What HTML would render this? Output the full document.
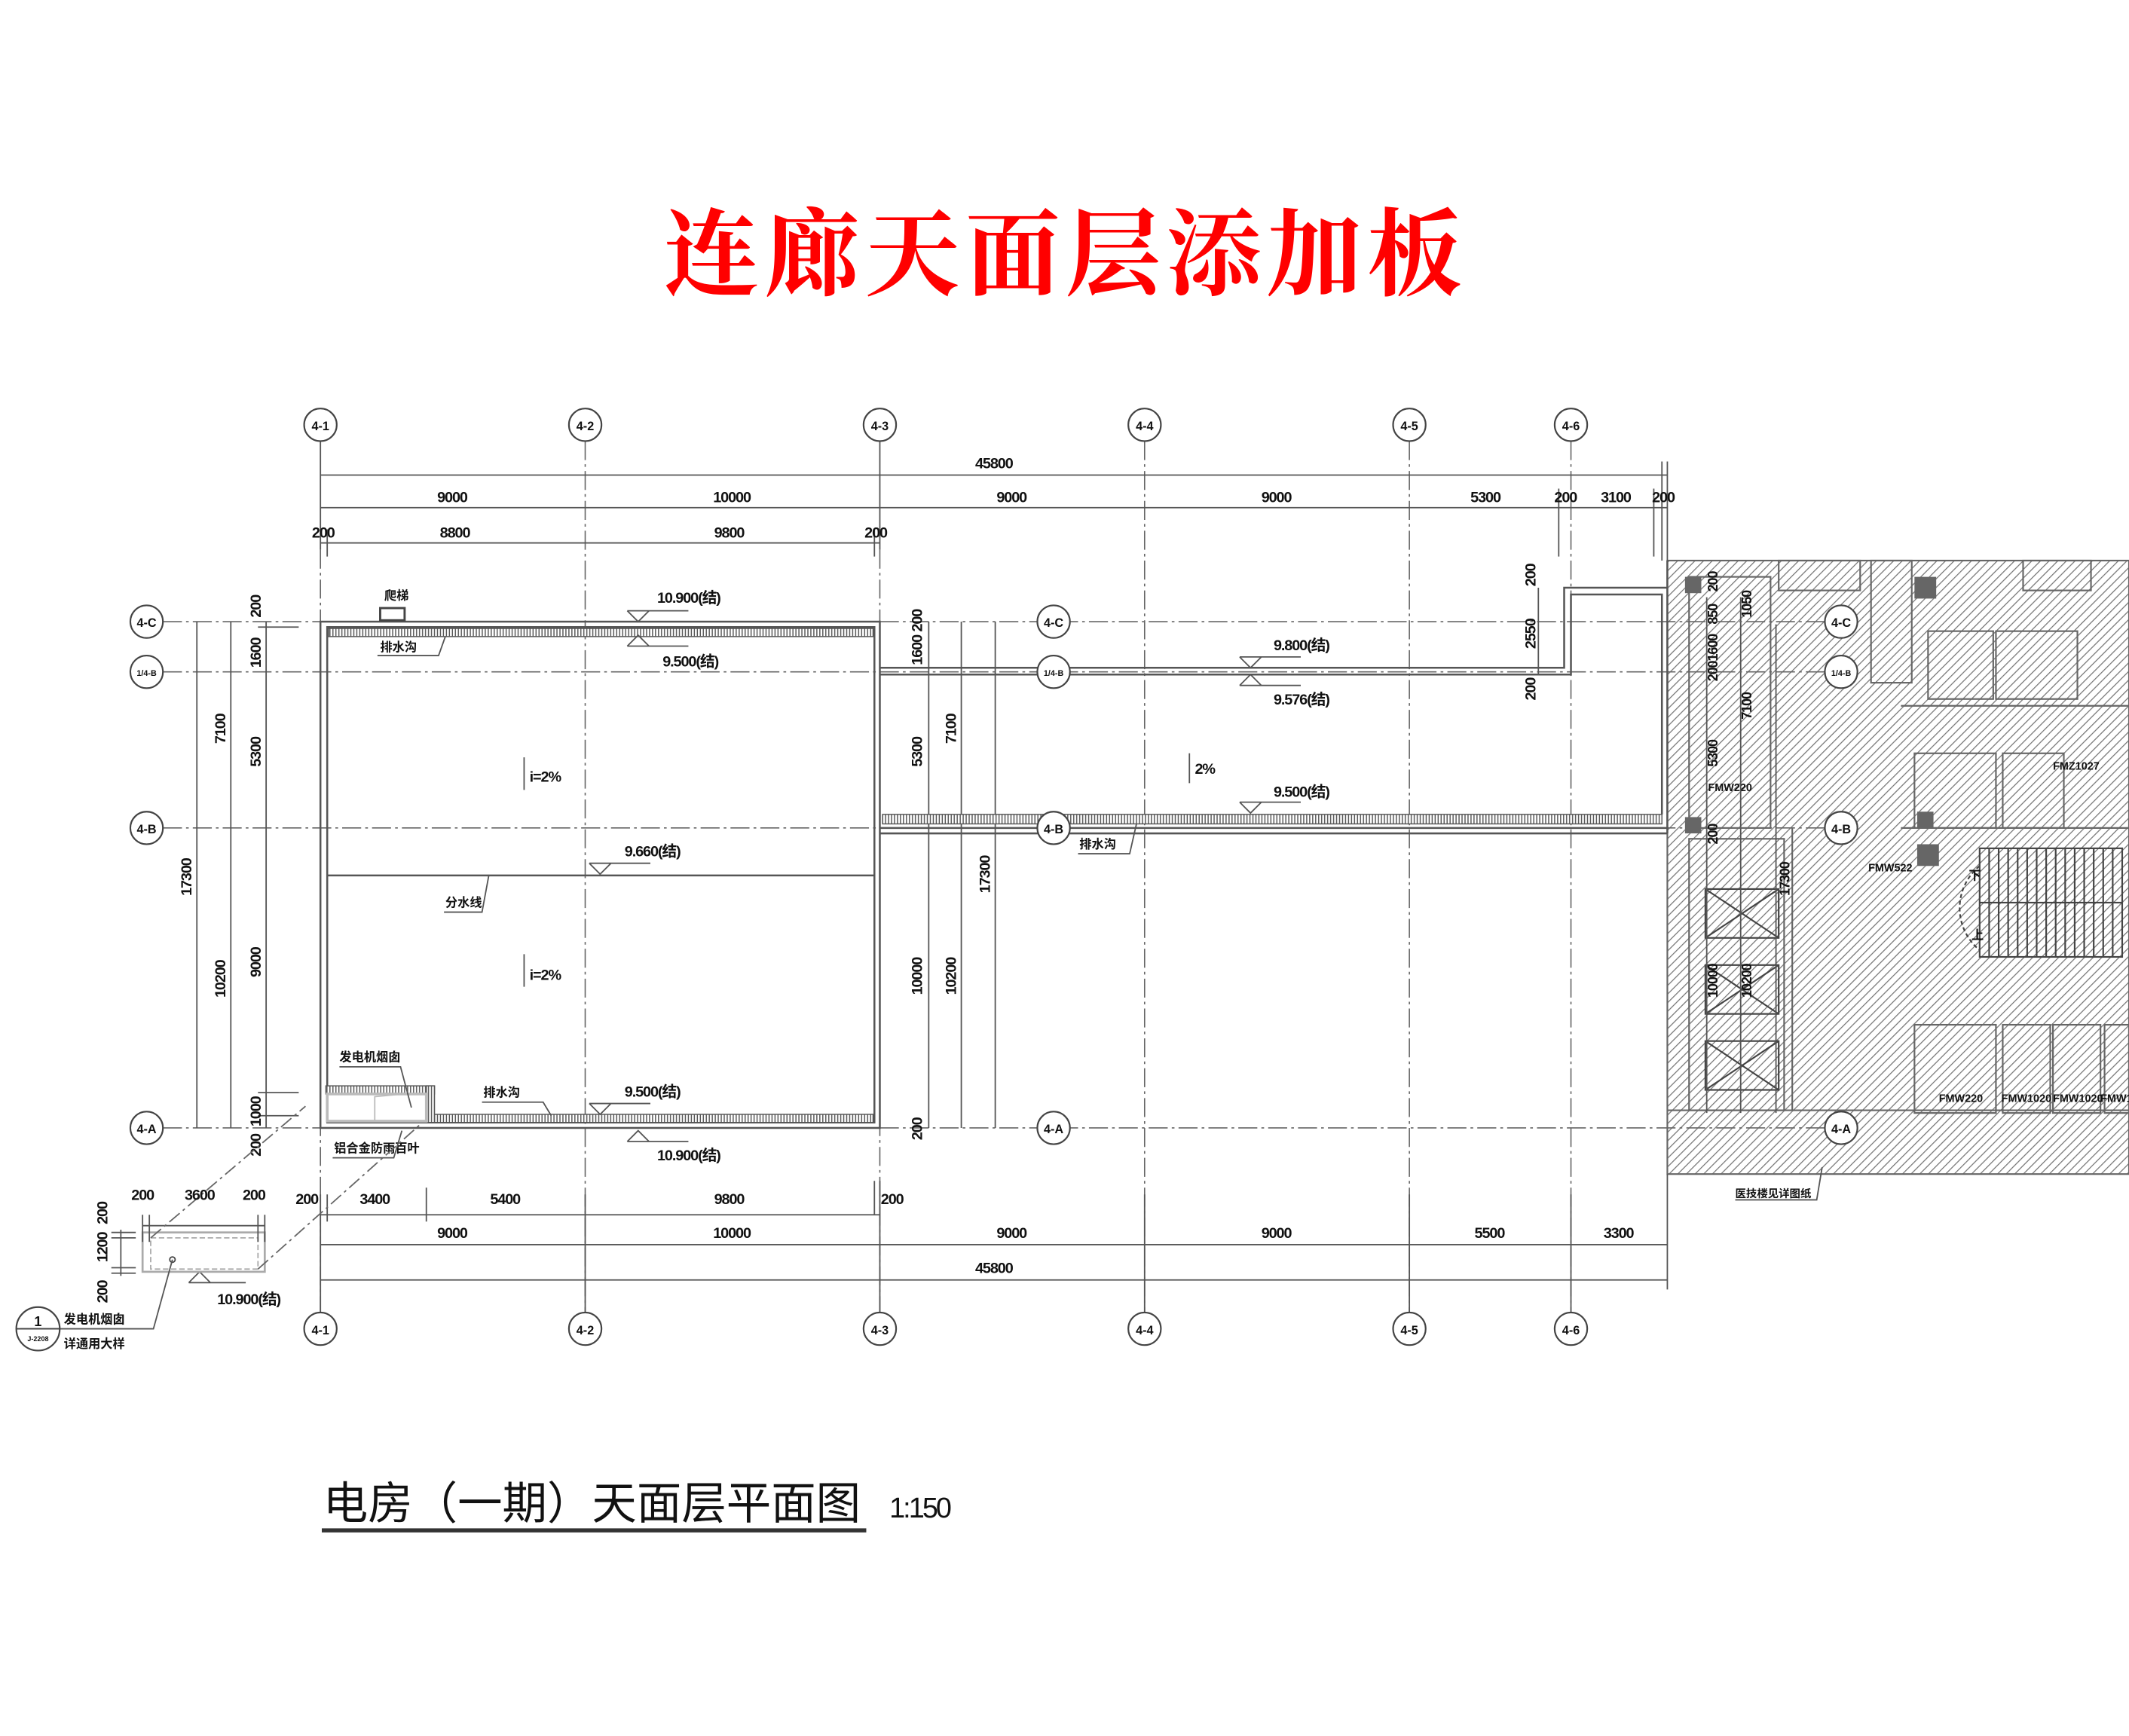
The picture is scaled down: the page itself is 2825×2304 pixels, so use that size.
<!DOCTYPE html>
<html><head><meta charset="utf-8"><style>
html,body{margin:0;padding:0;background:#fff;}
svg{display:block;}
text{font-family:"Liberation Sans","Noto Sans CJK SC",sans-serif;fill:#111;}
.n{font-size:11px;font-weight:bold;letter-spacing:-0.6px;}
.c{font-size:9px;font-weight:bold;}
.g{stroke:#555;stroke-width:1;fill:none;}
.dd{stroke:#666;stroke-width:0.9;stroke-dasharray:14 3 2 3;fill:none;}
.w{stroke:#555;stroke-width:1.4;fill:none;}
.ax{fill:#fff;stroke:#444;stroke-width:1.2;}
</style></head><body>
<svg width="2825" height="2304" viewBox="0 0 1568 1279" preserveAspectRatio="none" xmlns="http://www.w3.org/2000/svg">
<defs>
<pattern id="tick" width="2.2" height="10" patternUnits="userSpaceOnUse"><rect width="2.2" height="10" fill="#fff"/><line x1="1" y1="0" x2="1" y2="10" stroke="#555" stroke-width="0.8"/></pattern>
<pattern id="hat" width="4.5" height="4.5" patternUnits="userSpaceOnUse" patternTransform="rotate(45)"><rect width="4.5" height="4.5" fill="#fff"/><line x1="0" y1="0" x2="0" y2="4.5" stroke="#777" stroke-width="1.4"/></pattern>
</defs>
<rect width="1568" height="1279" fill="#fff"/>

<text x="785" y="212" text-anchor="middle" style="font-family:'Noto Serif CJK SC','Noto Sans CJK SC',serif;font-size:70px;font-weight:bold;fill:#f00;letter-spacing:4px">连廊天面层添加板</text>

<rect x="1228" y="413" width="340" height="452" fill="url(#hat)" stroke="#666" stroke-width="1.2"/>
<g stroke="#666" stroke-width="1.2" fill="none">
<rect x="1244" y="425" width="60" height="185"/>
<rect x="1244" y="618" width="70" height="200"/>
<rect x="1310" y="413" width="60" height="22"/>
<rect x="1378" y="413" width="30" height="90"/>
<rect x="1420" y="465" width="48" height="50"/>
<rect x="1470" y="465" width="60" height="50"/>
<rect x="1490" y="413" width="50" height="22"/>
<rect x="1410" y="555" width="60" height="55"/>
<rect x="1475" y="555" width="45" height="55"/>
<rect x="1410" y="755" width="60" height="65"/>
<rect x="1475" y="755" width="35" height="65"/>
<rect x="1512" y="755" width="35" height="65"/>
<rect x="1550" y="755" width="18" height="65"/>
<line x1="1228" y1="818" x2="1568" y2="818"/>
<line x1="1400" y1="610" x2="1568" y2="610"/>
<line x1="1400" y1="520" x2="1568" y2="520"/>
<line x1="1320" y1="610" x2="1320" y2="818"/>
</g>
<g stroke="#444" stroke-width="1.2" fill="none">
<rect x="1256" y="655" width="54" height="36"/><line x1="1256" y1="655" x2="1310" y2="691"/><line x1="1310" y1="655" x2="1256" y2="691"/>
<rect x="1256" y="711" width="54" height="36"/><line x1="1256" y1="711" x2="1310" y2="747"/><line x1="1310" y1="711" x2="1256" y2="747"/>
<rect x="1256" y="767" width="54" height="36"/><line x1="1256" y1="767" x2="1310" y2="803"/><line x1="1310" y1="767" x2="1256" y2="803"/>
<rect x="1458" y="625" width="105" height="80"/>
<line x1="1458" y1="665" x2="1563" y2="665"/>
<path d="M1465 625v80M1472 625v80M1479 625v80M1486 625v80M1493 625v80M1500 625v80M1507 625v80M1514 625v80M1521 625v80M1528 625v80M1535 625v80M1542 625v80M1549 625v80M1556 625v80"/>
<path d="M1458 638 A40 40 0 0 0 1458 700" stroke-dasharray="3 2"/>
</g>
<g fill="#666"><rect x="1410" y="425" width="16" height="16"/><rect x="1241" y="425" width="12" height="12"/><rect x="1241" y="602" width="12" height="12"/><rect x="1412" y="598" width="12" height="12"/><rect x="1412" y="622" width="16" height="16"/></g>
<text x="1450" y="648" class="c">下</text><text x="1452" y="692" class="c">上</text>
<g style="font-size:8px;fill:#666;font-weight:bold">
<text x="1258" y="583">FMW220</text><text x="1376" y="642">FMW522</text><text x="1512" y="567">FMZ1027</text>
<text x="1428" y="812">FMW220</text><text x="1474" y="812">FMW1020</text><text x="1512" y="812">FMW1020</text><text x="1547" y="812">FMW1020</text>
</g>
<g class="n" style="font-size:10px"><text transform="translate(1265,436) rotate(-90)">200</text><text transform="translate(1265,460) rotate(-90)">850</text><text transform="translate(1290,455) rotate(-90)">1050</text><text transform="translate(1265,502) rotate(-90)">2001600</text><text transform="translate(1290,530) rotate(-90)">7100</text><text transform="translate(1265,565) rotate(-90)">5300</text><text transform="translate(1265,622) rotate(-90)">200</text><text transform="translate(1318,660) rotate(-90)">17300</text><text transform="translate(1265,735) rotate(-90)">10000</text><text transform="translate(1290,735) rotate(-90)">10200</text></g>
<g class="g"><line x1="1257" y1="440" x2="1257" y2="820"/><line x1="1282" y1="440" x2="1282" y2="820"/><line x1="1308" y1="460" x2="1308" y2="820"/></g>
<path d="M1278 884h60l4-24" class="g"/><text x="1278" y="882" class="c" style="font-size:8px">医技楼见详图纸</text>

<g class="dd">
<line x1="236" y1="405" x2="236" y2="967"/><line x1="431" y1="325" x2="431" y2="967"/><line x1="648" y1="405" x2="648" y2="967"/>
<line x1="843" y1="325" x2="843" y2="967"/><line x1="1038" y1="325" x2="1038" y2="967"/><line x1="1157" y1="325" x2="1157" y2="967"/>
</g>
<g class="g">
<line x1="236" y1="325" x2="236" y2="405"/><line x1="648" y1="325" x2="648" y2="405"/>
<line x1="236" y1="880" x2="236" y2="967"/><line x1="431" y1="880" x2="431" y2="967"/><line x1="648" y1="870" x2="648" y2="967"/><line x1="843" y1="880" x2="843" y2="967"/><line x1="1038" y1="880" x2="1038" y2="967"/><line x1="1157" y1="880" x2="1157" y2="967"/>
<line x1="1228" y1="340" x2="1228" y2="413"/><line x1="1224" y1="340" x2="1224" y2="413"/><line x1="1228" y1="865" x2="1228" y2="950"/>
</g>
<g class="dd">
<line x1="120" y1="458" x2="1344" y2="458"/><line x1="120" y1="495" x2="1344" y2="495"/><line x1="120" y1="610" x2="1344" y2="610"/><line x1="120" y1="831" x2="1344" y2="831"/>
</g>

<g class="g">
<line x1="236" y1="350" x2="1228" y2="350"/>
<line x1="236" y1="374" x2="1228" y2="374"/>
<line x1="236" y1="400" x2="648" y2="400"/>
<path d="M1148 360v50M1218 360v50M241 390v20M644 390v20"/>
</g>
<g class="n" text-anchor="middle">
<text x="732" y="345">45800</text>
<text x="333" y="370">9000</text><text x="539" y="370">10000</text><text x="745" y="370">9000</text><text x="940" y="370">9000</text><text x="1094" y="370">5300</text><text x="1153" y="370">200</text><text x="1190" y="370">3100</text><text x="1225" y="370">200</text>
<text x="238" y="396">200</text><text x="335" y="396">8800</text><text x="537" y="396">9800</text><text x="645" y="396">200</text>
</g>
<g class="g">
<line x1="236" y1="895" x2="648" y2="895"/><line x1="236" y1="917" x2="1228" y2="917"/><line x1="236" y1="943" x2="1228" y2="943"/>
<path d="M241 880v20M314 875v25M644 870v25"/>
</g>
<g class="n" text-anchor="middle">
<text x="226" y="887">200</text><text x="276" y="887">3400</text><text x="372" y="887">5400</text><text x="537" y="887">9800</text><text x="657" y="887">200</text>
<text x="333" y="912">9000</text><text x="539" y="912">10000</text><text x="745" y="912">9000</text><text x="940" y="912">9000</text><text x="1097" y="912">5500</text><text x="1192" y="912">3300</text>
<text x="732" y="938">45800</text>
</g>

<g class="g"><line x1="145" y1="458" x2="145" y2="831"/><line x1="170" y1="458" x2="170" y2="831"/><line x1="196" y1="458" x2="196" y2="831"/>
<path d="M190 462h30M190 805h30M190 822h30"/></g>
<g class="n">
<text transform="translate(141,660) rotate(-90)">17300</text>
<text transform="translate(166,548) rotate(-90)">7100</text><text transform="translate(166,735) rotate(-90)">10200</text>
<text transform="translate(192,455) rotate(-90)">200</text><text transform="translate(192,492) rotate(-90)">1600</text><text transform="translate(192,565) rotate(-90)">5300</text><text transform="translate(192,720) rotate(-90)">9000</text><text transform="translate(192,830) rotate(-90)">1000</text><text transform="translate(192,852) rotate(-90)">200</text>
</g>
<g class="g"><line x1="684" y1="458" x2="684" y2="831"/><line x1="708" y1="458" x2="708" y2="831"/><line x1="733" y1="458" x2="733" y2="831"/><line x1="1133" y1="433" x2="1133" y2="497"/></g>
<g class="n">
<text transform="translate(679,490) rotate(-90)">1600 200</text><text transform="translate(679,565) rotate(-90)">5300</text><text transform="translate(704,548) rotate(-90)">7100</text><text transform="translate(729,658) rotate(-90)">17300</text>
<text transform="translate(679,733) rotate(-90)">10000</text><text transform="translate(704,733) rotate(-90)">10200</text><text transform="translate(679,840) rotate(-90)">200</text>
<text transform="translate(1131,432) rotate(-90)">200</text><text transform="translate(1131,478) rotate(-90)">2550</text><text transform="translate(1131,516) rotate(-90)">200</text>
</g>

<g class="w">
<rect x="236" y="458" width="412" height="373"/>
<rect x="241" y="462" width="403" height="365"/>
<line x1="241" y1="645" x2="644" y2="645"/>
</g>
<rect x="242" y="463" width="401" height="6" fill="url(#tick)" stroke="#555" stroke-width="0.8"/>
<rect x="320" y="821" width="323" height="6" fill="url(#tick)" stroke="#555" stroke-width="0.8"/>
<rect x="240" y="800" width="80" height="6" fill="url(#tick)" stroke="#555" stroke-width="0.8"/>
<rect x="314" y="800" width="6" height="27" fill="url(#tick)" stroke="#555" stroke-width="0.8"/>
<rect x="241" y="806" width="73" height="20" fill="#fff" stroke="#bbb" stroke-width="2"/>
<path d="M276 826v-18l20-2" stroke="#bbb" stroke-width="1" fill="none"/>

<g class="w">
<path d="M648 492H1152V433H1228"/><path d="M648 497H1157V438H1224V600"/>
<line x1="1228" y1="413" x2="1228" y2="614"/>
<line x1="648" y1="610" x2="1228" y2="610"/><line x1="648" y1="614" x2="1228" y2="614"/>
</g>
<rect x="650" y="600" width="574" height="7" fill="url(#tick)" stroke="#555" stroke-width="0.8"/>

<g>
<circle cx="236" cy="313" r="12" class="ax"/><circle cx="431" cy="313" r="12" class="ax"/><circle cx="648" cy="313" r="12" class="ax"/><circle cx="843" cy="313" r="12" class="ax"/><circle cx="1038" cy="313" r="12" class="ax"/><circle cx="1157" cy="313" r="12" class="ax"/>
<circle cx="236" cy="979" r="12" class="ax"/><circle cx="431" cy="979" r="12" class="ax"/><circle cx="648" cy="979" r="12" class="ax"/><circle cx="843" cy="979" r="12" class="ax"/><circle cx="1038" cy="979" r="12" class="ax"/><circle cx="1157" cy="979" r="12" class="ax"/>
<circle cx="108" cy="458" r="12" class="ax"/><circle cx="108" cy="495" r="12" class="ax"/><circle cx="108" cy="610" r="12" class="ax"/><circle cx="108" cy="831" r="12" class="ax"/>
<circle cx="776" cy="458" r="12" class="ax"/><circle cx="776" cy="495" r="12" class="ax"/><circle cx="776" cy="610" r="12" class="ax"/><circle cx="776" cy="831" r="12" class="ax"/>
<circle cx="1356" cy="458" r="12" class="ax"/><circle cx="1356" cy="495" r="12" class="ax"/><circle cx="1356" cy="610" r="12" class="ax"/><circle cx="1356" cy="831" r="12" class="ax"/>
</g>
<g class="c" text-anchor="middle">
<text x="236" y="317">4-1</text><text x="431" y="317">4-2</text><text x="648" y="317">4-3</text><text x="843" y="317">4-4</text><text x="1038" y="317">4-5</text><text x="1157" y="317">4-6</text>
<text x="236" y="983">4-1</text><text x="431" y="983">4-2</text><text x="648" y="983">4-3</text><text x="843" y="983">4-4</text><text x="1038" y="983">4-5</text><text x="1157" y="983">4-6</text>
<text x="108" y="462">4-C</text><text x="108" y="498" style="font-size:6px">1/4-B</text><text x="108" y="614">4-B</text><text x="108" y="835">4-A</text>
<text x="776" y="462">4-C</text><text x="776" y="498" style="font-size:6px">1/4-B</text><text x="776" y="614">4-B</text><text x="776" y="835">4-A</text>
<text x="1356" y="462">4-C</text><text x="1356" y="498" style="font-size:6px">1/4-B</text><text x="1356" y="614">4-B</text><text x="1356" y="835">4-A</text>
</g>

<g class="g" stroke-width="1.1">
<path d="M462 450h45M462 450l8 8l8-8"/>
<path d="M462 476h45M462 476l8-8l8 8"/>
<path d="M434 636h45M434 636l8 8l8-8"/>
<path d="M434 813h45M434 813l8 8l8-8"/>
<path d="M462 841h45M462 841l8-8l8 8"/>
<path d="M913 484h45M913 484l8 8l8-8"/>
<path d="M913 505h45M913 505l8-8l8 8"/>
<path d="M913 591h45M913 591l8 8l8-8"/>
<path d="M139 945h42M139 945l8-8l8 8"/>
<path d="M386 558v24M386 703v24M876 555v22"/>
</g>
<g class="n">
<text x="484" y="444">10.900(结)</text><text x="488" y="491">9.500(结)</text><text x="460" y="631">9.660(结)</text><text x="460" y="808">9.500(结)</text><text x="484" y="855">10.900(结)</text>
<text x="938" y="479">9.800(结)</text><text x="938" y="519">9.576(结)</text><text x="938" y="587">9.500(结)</text><text x="160" y="961">10.900(结)</text>
<text x="390" y="576">i=2%</text><text x="390" y="722">i=2%</text><text x="880" y="570">2%</text>
</g>

<rect x="280" y="448" width="18" height="9" fill="#fff" stroke="#444" stroke-width="1.6"/>
<g class="c" style="font-size:9px">
<text x="283" y="442">爬梯</text><text x="280" y="480">排水沟</text><text x="328" y="668">分水线</text><text x="250" y="782">发电机烟囱</text><text x="356" y="808">排水沟</text><text x="246" y="849">铝合金防雨百叶</text><text x="795" y="625">排水沟</text>
</g>
<g class="g">
<path d="M278 483h45l5-14"/><path d="M327 672h28l5-27"/><path d="M250 786h45l8 30"/><path d="M355 812h45l6 10"/><path d="M245 853h45l6-20"/><path d="M794 629h38l5-22"/>
</g>

<rect x="105" y="908" width="90" height="29" fill="#fff" stroke="#aaa" stroke-width="1.5"/>
<rect x="111" y="912" width="79" height="23" fill="none" stroke="#aaa" stroke-width="1" stroke-dasharray="4 2"/>
<g class="g">
<line x1="105" y1="903" x2="195" y2="903"/><path d="M105 895v20M110 895v20M190 895v20M195 895v20"/>
<line x1="89" y1="906" x2="89" y2="940"/><path d="M82 908h18M82 912h18M82 934h18M82 938h18"/>
</g>
<g stroke="#666" stroke-width="1" stroke-dasharray="10 3 2 3" fill="none"><path d="M111 912L225 815"/><path d="M190 935L310 828"/></g>
<g class="n" text-anchor="middle"><text x="105" y="884">200</text><text x="147" y="884">3600</text><text x="187" y="884">200</text></g>
<g class="n"><text transform="translate(79,902) rotate(-90)">200</text><text transform="translate(79,930) rotate(-90)">1200</text><text transform="translate(79,960) rotate(-90)">200</text></g>
<circle cx="127" cy="928" r="2" fill="#fff" stroke="#444"/>
<path d="M15 979h98l14-51" class="g"/>
<circle cx="28" cy="979" r="16" fill="none" stroke="#444" stroke-width="1.2"/>
<line x1="12" y1="979" x2="44" y2="979" stroke="#444"/>
<text x="28" y="977" text-anchor="middle" class="c" style="font-size:10px">1</text>
<text x="28" y="988" text-anchor="middle" class="c" style="font-size:5px">J-2208</text>
<text x="47" y="975" class="c" style="font-size:9px">发电机烟囱</text>
<text x="47" y="993" class="c" style="font-size:9px">详通用大样</text>

<text x="238" y="1119" style="font-family:'Liberation Sans','Noto Sans CJK SC',sans-serif;font-size:33px;fill:#111;">电房（一期）天面层平面图</text>
<text x="655" y="1118" style="font-size:21px;fill:#111;" textLength="46">1:150</text>
<rect x="237" y="1126" width="401" height="3" fill="#333"/>
</svg>
</body></html>
